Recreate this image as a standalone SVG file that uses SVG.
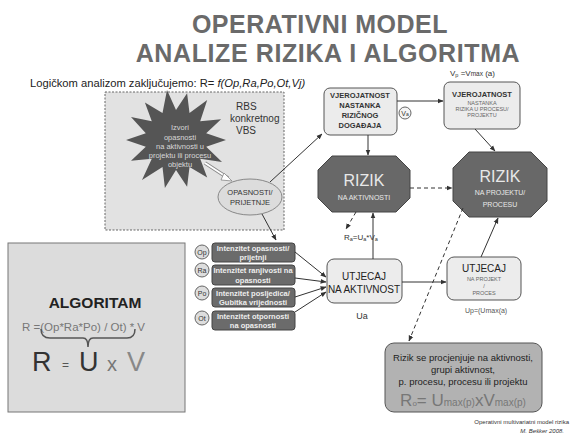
<svg xmlns="http://www.w3.org/2000/svg" width="573" height="443" viewBox="0 0 573 443">
<defs>
<marker id="ah" viewBox="0 0 10 10" refX="9" refY="5" markerWidth="6" markerHeight="6" orient="auto"><path d="M0,1 L10,5 L0,9 z" fill="#333"/></marker>
</defs>
<style>
text{font-family:"Liberation Sans",Arial,sans-serif}
.c{text-anchor:middle}
.title{font-size:25px;font-weight:bold;fill:#6a6a6a}
.box{fill:#ececec;stroke:#555;stroke-width:1}
.oct{fill:#686868;stroke:#444;stroke-width:1}
.dark{fill:#6b6b6b;stroke:#444;stroke-width:1}
.dt{font-size:7.5px;font-weight:bold;fill:#eee}
.circ{fill:#ddd;stroke:#666;stroke-width:1}
.ct{font-size:7px;fill:#333}
.ln{stroke:#333;stroke-width:1;fill:none;marker-end:url(#ah)}
.dash{stroke:#333;stroke-width:1;fill:none;stroke-dasharray:4,3;marker-end:url(#ah)}
.bt{font-size:7.5px;font-weight:bold;fill:#333}
.st{font-size:5.5px;fill:#666}
.rz{font-size:16px;fill:#e8e8e8}
.rzs{font-size:7px;fill:#e8e8e8}
</style>
<rect width="573" height="443" fill="#fff"/>
<text class="title c" x="320" y="33" letter-spacing="0.5">OPERATIVNI MODEL</text>
<text class="title c" x="328" y="62" letter-spacing="0.6">ANALIZE RIZIKA I ALGORITMA</text>
<text x="30" y="87" font-size="11.2" fill="#222">Logičkom analizom zaključujemo: R= <tspan font-style="italic">f(Op,Ra,Po,Ot,Vj)</tspan></text>

<g id="rbs">
<rect x="105" y="92" width="179" height="138" fill="#e2e2e2" stroke="#666" stroke-dasharray="2,1.5"/>
<text x="236" y="110" font-size="10" fill="#333">RBS</text>
<text x="230" y="122" font-size="10" fill="#333">konkretnog</text>
<text x="236" y="134" font-size="10" fill="#333">VBS</text>
</g>
<g id="izvori">
<polygon fill="#555" points="226,140 206.2,146.7 222,162 200.2,158.7 207.2,177.5 189.5,167 187.1,186.8 176,170 164.9,188 162.5,167 142,180 151.8,158.7 131,160.8 145.8,146.7 126,140 145.8,133.3 131,117 151.8,121.3 144.9,102.5 162.5,113 167,90 176,110 187.1,93.2 189.5,113 207.2,100 200.2,121.3 221.1,119.2 206.2,133.3"/>
<g font-size="7.5" fill="#d8d8d8" text-anchor="middle">
<text x="180" y="130">Izvori</text>
<text x="180" y="140">opasnosti</text>
<text x="180" y="149">na aktivnosti u</text>
<text x="180" y="158">projektu ili procesu</text>
<text x="180" y="167">objektu</text>
</g>
</g>
<g id="opasnosti">
<ellipse cx="250" cy="197" rx="32" ry="18" fill="#dcdcdc" stroke="#888"/>
<text class="c" x="250" y="195" font-size="7.5" fill="#333">OPASNOSTI/</text>
<text class="c" x="250" y="205" font-size="7.5" fill="#333">PRIJETNJE</text>
</g>

<g id="vjer1">
<rect class="box" x="324" y="88" width="73" height="47" rx="6"/>
<text class="bt c" x="360" y="98">VJEROJATNOST</text>
<text class="bt c" x="360" y="108">NASTANKA</text>
<text class="bt c" x="360" y="118">RIZIČNOG</text>
<text class="bt c" x="360" y="128">DOGAĐAJA</text>
</g>
<g id="va">
<circle cx="405" cy="113" r="6" fill="#f4f4f4" stroke="#666"/>
<text class="c" x="405" y="116" font-size="7" fill="#333">V<tspan font-size="5">a</tspan></text>
</g>
<g id="vjer2">
<text x="450" y="76" font-size="8" fill="#333">V<tspan font-size="5.5" dy="1">p</tspan><tspan dy="-1"> =V</tspan><tspan font-size="6.5">max</tspan> (a)</text>
<rect class="box" x="444" y="82" width="76" height="47" rx="6"/>
<text class="bt c" x="482" y="97">VJEROJATNOST</text>
<text class="st c" x="482" y="105">NASTANKA</text>
<text class="st c" x="482" y="111">RIZIKA U PROCESU/</text>
<text class="st c" x="482" y="117">PROJEKTU</text>
</g>
<g id="rizik1">
<polygon class="oct" points="332,156 396,156 410,170 410,198 396,212 332,212 318,198 318,170"/>
<text class="rz c" x="364" y="186">RIZIK</text>
<text class="rzs c" x="364" y="200">NA AKTIVNOSTI</text>
</g>
<g id="rizik2">
<polygon class="oct" points="469,152 531,152 547,168 547,201 531,217 469,217 453,201 453,168"/>
<text class="rz c" x="500" y="182">RIZIK</text>
<text class="rzs c" x="500" y="195">NA PROJEKTU/</text>
<text class="rzs c" x="500" y="207">PROCESU</text>
</g>
<text x="344" y="240" font-size="8" fill="#333">R<tspan font-size="5.5" dy="1">a</tspan><tspan dy="-1">=U</tspan><tspan font-size="5.5" dy="1">a</tspan><tspan dy="-1">*V</tspan><tspan font-size="5.5" dy="1">a</tspan></text>

<g id="utjecaj1">
<rect class="box" x="327" y="259" width="75" height="44" rx="7"/>
<text class="c" x="364" y="280" font-size="10" fill="#222">UTJECAJ</text>
<text class="c" x="364" y="293" font-size="10" fill="#222">NA AKTIVNOST</text>
<text class="c" x="362" y="319" font-size="9" fill="#333">Ua</text>
</g>
<g id="utjecaj2">
<rect class="box" x="447" y="257" width="74" height="43" rx="7"/>
<text class="c" x="484" y="272" font-size="10" fill="#222">UTJECAJ</text>
<text class="st c" x="484" y="281" font-size="6">NA PROJEKT</text>
<text class="st c" x="484" y="288" font-size="6">/</text>
<text class="st c" x="484" y="295" font-size="6">PROCES</text>
<text x="465" y="313" font-size="7" fill="#555">Up=(Umax(a)</text>
</g>

<g id="op">
<rect class="dark" x="212" y="243" width="83" height="19" rx="3"/>
<text class="dt c" x="253" y="251">Intenzitet opasnosti/</text>
<text class="dt c" x="253" y="260">prijetnji</text>
<circle class="circ" cx="202" cy="252" r="7"/><text class="ct c" x="202" y="254.5">Op</text>
</g>
<g id="ra">
<rect class="dark" x="212" y="265" width="83" height="20" rx="3"/>
<text class="dt c" x="253" y="273">Intenzitet ranjivosti na</text>
<text class="dt c" x="253" y="283">opasnosti</text>
<circle class="circ" cx="202" cy="270" r="7"/><text class="ct c" x="202" y="272.5">Ra</text>
</g>
<g id="po">
<rect class="dark" x="212" y="288" width="83" height="19" rx="3"/>
<text class="dt c" x="253" y="296">Intenzitet posljedica/</text>
<text class="dt c" x="253" y="305">Gubitka vrijednosti</text>
<circle class="circ" cx="202" cy="293" r="7"/><text class="ct c" x="202" y="295.5">Po</text>
</g>
<g id="ot">
<rect class="dark" x="212" y="311" width="83" height="19" rx="3"/>
<text class="dt c" x="253" y="319">Intenzitet otpornosti</text>
<text class="dt c" x="253" y="328">na opasnosti</text>
<circle class="circ" cx="202" cy="318" r="7"/><text class="ct c" x="202" y="320.5">Ot</text>
</g>

<g id="algoritam">
<rect x="8" y="243" width="177" height="169" fill="#dcdcdc" stroke="#777"/>
<text class="c" x="95" y="308" font-size="15.5" font-weight="bold" fill="#222">ALGORITAM</text>
<text x="22" y="331" font-size="11.5" fill="#777">R =(Op*Ra*Po) / Ot) * V</text>
<path d="M41,329 Q41,338 50,338 L83,338 Q88,338 88,347 Q88,338 93,338 L127,338 Q135,338 135,329" fill="none" stroke="#555" stroke-width="1.5"/>
<text x="32" y="371" font-size="27" fill="#333">R</text>
<text x="62" y="369" font-size="12" fill="#555">=</text>
<text x="79" y="371" font-size="27" fill="#333">U</text>
<text x="107" y="371" font-size="20" fill="#777">x</text>
<text x="127" y="371" font-size="27" fill="#888">V</text>
</g>

<g id="zakljucak">
<rect x="385" y="343" width="157" height="69" rx="9" fill="#b2b2b2" stroke="#555"/>
<text class="c" x="463" y="361" font-size="9.5" fill="#222">Rizik se procjenjuje na aktivnosti,</text>
<text class="c" x="463" y="373" font-size="9.5" fill="#222">grupi aktivnost,</text>
<text class="c" x="463" y="385" font-size="9.5" fill="#222">p. procesu, procesu ili projektu</text>
<text class="c" x="463" y="406" font-size="17" fill="#777">R<tspan font-size="8">o</tspan>= U<tspan font-size="10">max(p)</tspan>xV<tspan font-size="10">max(p)</tspan></text>
</g>
<text x="569" y="424" font-size="6" fill="#333" text-anchor="end">Operativni multivariatni model rizika</text>
<text x="564" y="433" font-size="6" fill="#333" text-anchor="end" font-style="italic">M. Bešker 2008.</text>

<g id="connectors">
<line x1="205" y1="163" x2="228" y2="178" stroke="#888" stroke-width="3.5"/>
<line x1="205" y1="163" x2="228" y2="178" stroke="#fff" stroke-width="1.8"/>
<path d="M224,173 L232,181 L221,180 z" fill="#fff" stroke="#888" stroke-width="0.8"/>
<line class="ln" x1="270" y1="182" x2="322" y2="134"/>
<line class="ln" x1="262" y1="214" x2="276" y2="240"/>
<line class="ln" x1="397" y1="101" x2="443" y2="101"/>
<line class="ln" x1="368" y1="135" x2="368" y2="155"/>
<line class="ln" x1="475" y1="129" x2="495" y2="151"/>
<line class="dash" x1="410" y1="188" x2="452" y2="188"/>
<line class="dash" x1="356" y1="212" x2="346" y2="229"/>
<line class="ln" x1="373" y1="259" x2="373" y2="213"/>
<line class="ln" x1="402" y1="282" x2="446" y2="282"/>
<line class="ln" x1="481" y1="257" x2="498" y2="218"/>
<line class="dash" x1="463" y1="208" x2="409" y2="341"/>
<line class="ln" x1="295" y1="252" x2="326" y2="277"/>
<line class="ln" x1="295" y1="278" x2="326" y2="282"/>
<line class="ln" x1="295" y1="297" x2="326" y2="287"/>
<line class="ln" x1="295" y1="312" x2="326" y2="292"/>
</g>
</svg>
